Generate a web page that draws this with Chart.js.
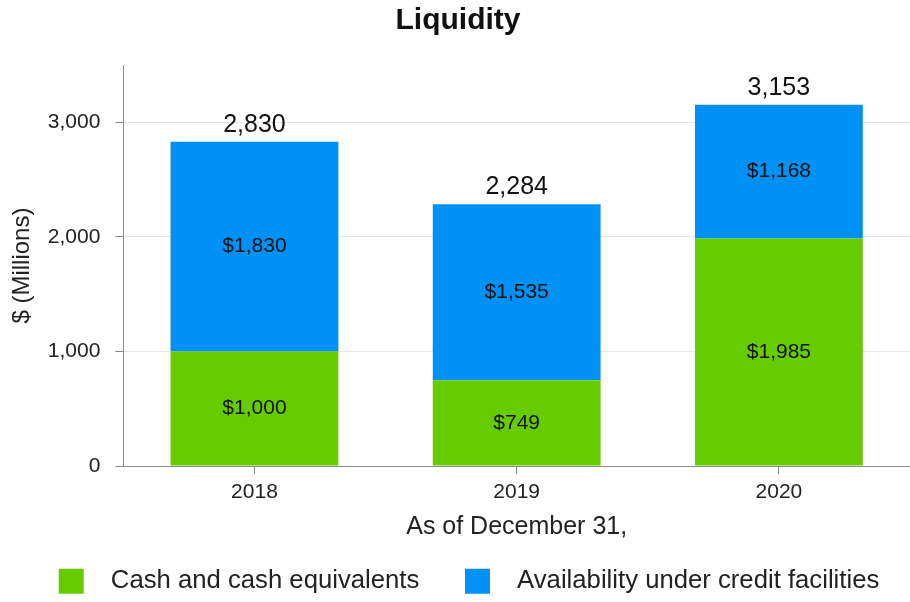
<!DOCTYPE html>
<html>
<head>
<meta charset="utf-8">
<script src="https://cdn.jsdelivr.net/npm/chart.js@4/dist/chart.umd.min.js"></script>
<style>
html,body{margin:0;padding:0;background:#fff;}
#wrap{width:910px;height:602px;position:relative;}
</style>
</head>
<body>
<div id="wrap"><canvas id="c"></canvas></div>
<script>
const years = ['2018', '2019', '2020'];
const cashValues = [1000, 749, 1985];
const creditValues = [1830, 1535, 1168];
const totalLabels = ['2,830', '2,284', '3,153'];
const yTicks = [0, 1000, 2000, 3000];
const seriesNames = ['Cash and cash equivalents', 'Availability under credit facilities'];

const FONT = "'Liberation Sans', Arial, sans-serif";

const labelPlugin = {
  id: 'barLabels',
  afterLayout(chart) {
    if (chart.legend) { chart.legend.left += 11; chart.legend.right += 11; }
  },
  afterDatasetsDraw(chart) {
    const ctx = chart.ctx;
    ctx.save();
    ctx.textAlign = 'center';
    ctx.textBaseline = 'middle';
    ctx.fillStyle = '#111';
    ctx.font = '21px ' + FONT;
    chart.data.datasets.forEach((ds, di) => {
      const meta = chart.getDatasetMeta(di);
      meta.data.forEach((bar, i) => {
        const v = ds.data[i];
        const y = (bar.y + bar.base) / 2;
        ctx.fillText('$' + v.toLocaleString('en-US'), bar.x, y);
      });
    });
    const topMeta = chart.getDatasetMeta(chart.data.datasets.length - 1);
    ctx.font = '25px ' + FONT;
    ctx.textBaseline = 'alphabetic';
    topMeta.data.forEach((bar, i) => {
      ctx.fillText(totalLabels[i], bar.x, bar.y - 10);
    });
    ctx.restore();
  }
};

new Chart(document.getElementById('c'), {
  type: 'bar',
  data: {
    labels: years,
    datasets: [
      { label: seriesNames[0], data: cashValues, backgroundColor: '#66CC00', barPercentage: 0.64, categoryPercentage: 1 },
      { label: seriesNames[1], data: creditValues, backgroundColor: '#0091F7', barPercentage: 0.64, categoryPercentage: 1 }
    ]
  },
  options: {
    responsive: true,
    maintainAspectRatio: false,
    animation: false,
    layout: { padding: { left: 0, right: -6, top: 0, bottom: -2 } },
    plugins: {
      title: {
        display: true,
        text: 'Liquidity',
        color: '#111',
        font: { family: FONT, size: 30, weight: 'bold' },
        padding: { top: 3, bottom: 26 }
      },
      legend: {
        position: 'bottom',
        labels: {
          color: '#222',
          font: { family: FONT, size: 25.7 },
          boxWidth: 25,
          boxHeight: 25,
          padding: 10,
          generateLabels: (chart) => {
            const items = Chart.defaults.plugins.legend.labels.generateLabels(chart);
            items.forEach((it, i) => {
              it.text = '  ' + it.text + (i < items.length - 1 ? '     ' : '');
              it.lineWidth = 0;
            });
            return items;
          }
        }
      },
      tooltip: { enabled: false }
    },
    scales: {
      x: {
        stacked: true,
        grid: { offset: false, drawOnChartArea: false, drawTicks: true, tickLength: 8, tickColor: '#888' },
        border: { color: '#888', width: 1 },
        ticks: { color: '#222', font: { family: FONT, size: 21 }, padding: 6 },
        title: { display: true, text: 'As of December 31,', color: '#222', font: { family: FONT, size: 25 }, padding: { top: 1, bottom: 16 } }
      },
      y: {
        stacked: true,
        min: 0,
        max: 3500,
        afterBuildTicks: (axis) => { axis.ticks = yTicks.map(v => ({ value: v })); },
        grid: { color: '#e6e6e6', drawTicks: true, tickLength: 8, tickColor: '#888' },
        border: { color: '#888', width: 1 },
        ticks: {
          color: '#222',
          font: { family: FONT, size: 21 },
          padding: 15,
          callback: (v) => Number(v).toLocaleString('en-US')
        },
        title: { display: true, text: '$ (Millions)', color: '#222', font: { family: FONT, size: 24 }, padding: { top: 8, bottom: -4 } }
      }
    }
  },
  plugins: [labelPlugin]
});
</script>
</body>
</html>
